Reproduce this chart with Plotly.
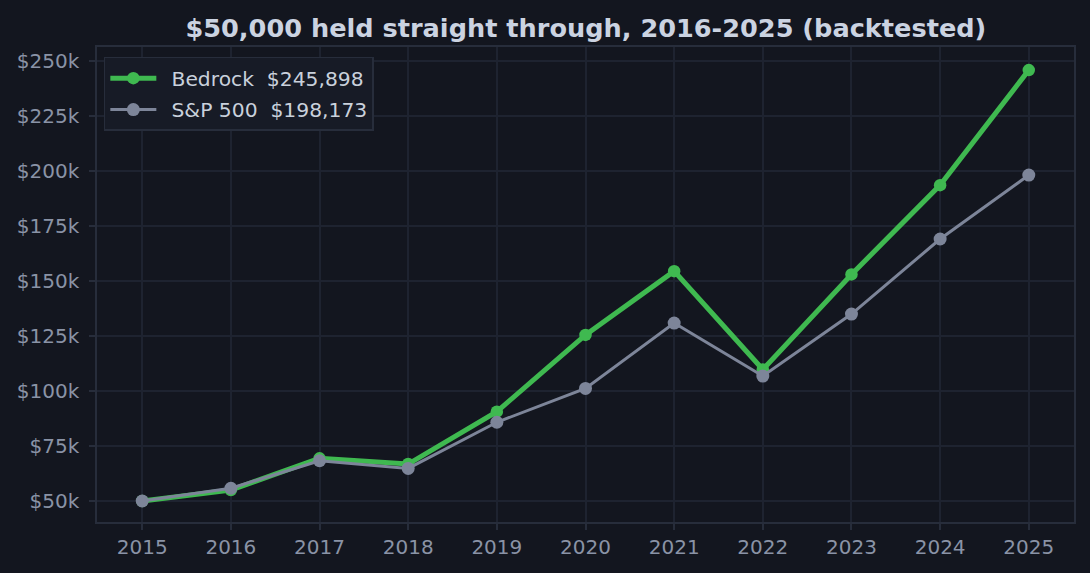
import plotly.graph_objects as go

years = [2015, 2016, 2017, 2018, 2019, 2020, 2021, 2022, 2023, 2024, 2025]
bedrock = [50000, 55000, 69400, 66800, 90600, 125500, 154500, 109800, 153000, 193600, 245898]
sp500 = [50000, 55800, 68300, 64800, 85800, 101200, 130900, 106800, 135000, 169100, 198173]
y_ticks = [50000, 75000, 100000, 125000, 150000, 175000, 200000, 225000, 250000]
y_tick_labels = ["$" + str(v // 1000) + "k" for v in y_ticks]

BG = "#13161f"
GRID = "#1e2330"
SPINE = "#272d3b"
TICKC = "#8a93a6"
GREEN = "#3fb950"
GRAY = "#7d8599"

fig = go.Figure()
fig.add_trace(go.Scatter(
    x=years, y=bedrock, mode="lines+markers",
    name="\u2002Bedrock  $" + f"{bedrock[-1]:,}", legendgroup="a",
    line=dict(color=GREEN, width=5),
    marker=dict(color=GREEN, size=12.5),
))
fig.add_trace(go.Scatter(
    x=years, y=sp500, mode="lines+markers",
    name="\u2002S&P 500  $" + f"{sp500[-1]:,}", legendgroup="b",
    line=dict(color=GRAY, width=3),
    marker=dict(color=GRAY, size=13),
))

fig.update_layout(
    width=1090, height=573,
    paper_bgcolor=BG, plot_bgcolor=BG,
    margin=dict(l=97, r=16, t=47, b=51),
    font=dict(family="DejaVu Sans", color=TICKC, size=20),
    title=dict(
        text="<b>$50,000 held straight through, 2016-2025 (backtested)</b>",
        x=0.5375, xanchor="center", y=0.951, yanchor="middle",
        font=dict(size=25.6, color="#cbd3e1", family="DejaVu Sans"),
    ),
    showlegend=True,
    legend=dict(
        x=0.007, y=0.979, xanchor="left", yanchor="top",
        bgcolor="#171b26", bordercolor=SPINE, borderwidth=1.5,
        font=dict(size=20.3, color="#c9d1dc"),
        itemwidth=46, tracegroupgap=2,
    ),
    xaxis=dict(
        range=[2014.49, 2025.51], tickmode="array", tickvals=years,
        showgrid=True, gridcolor=GRID, gridwidth=1.5,
        showline=True, linecolor=SPINE, linewidth=1.5, mirror=True,
        ticks="outside", ticklen=6, tickcolor=SPINE, tickwidth=1.5,
        zeroline=False, tickfont=dict(size=20, color=TICKC),
    ),
    yaxis=dict(
        range=[40450, 256400], tickmode="array", tickvals=y_ticks, ticktext=y_tick_labels,
        showgrid=True, gridcolor=GRID, gridwidth=1.5,
        showline=True, linecolor=SPINE, linewidth=1.5, mirror=True,
        ticks="outside", ticklen=6, tickcolor=SPINE, tickwidth=1.5,
        zeroline=False, tickfont=dict(size=20, color=TICKC),
        ticklabelstandoff=6,
    ),
)

fig.write_html("out.html")
